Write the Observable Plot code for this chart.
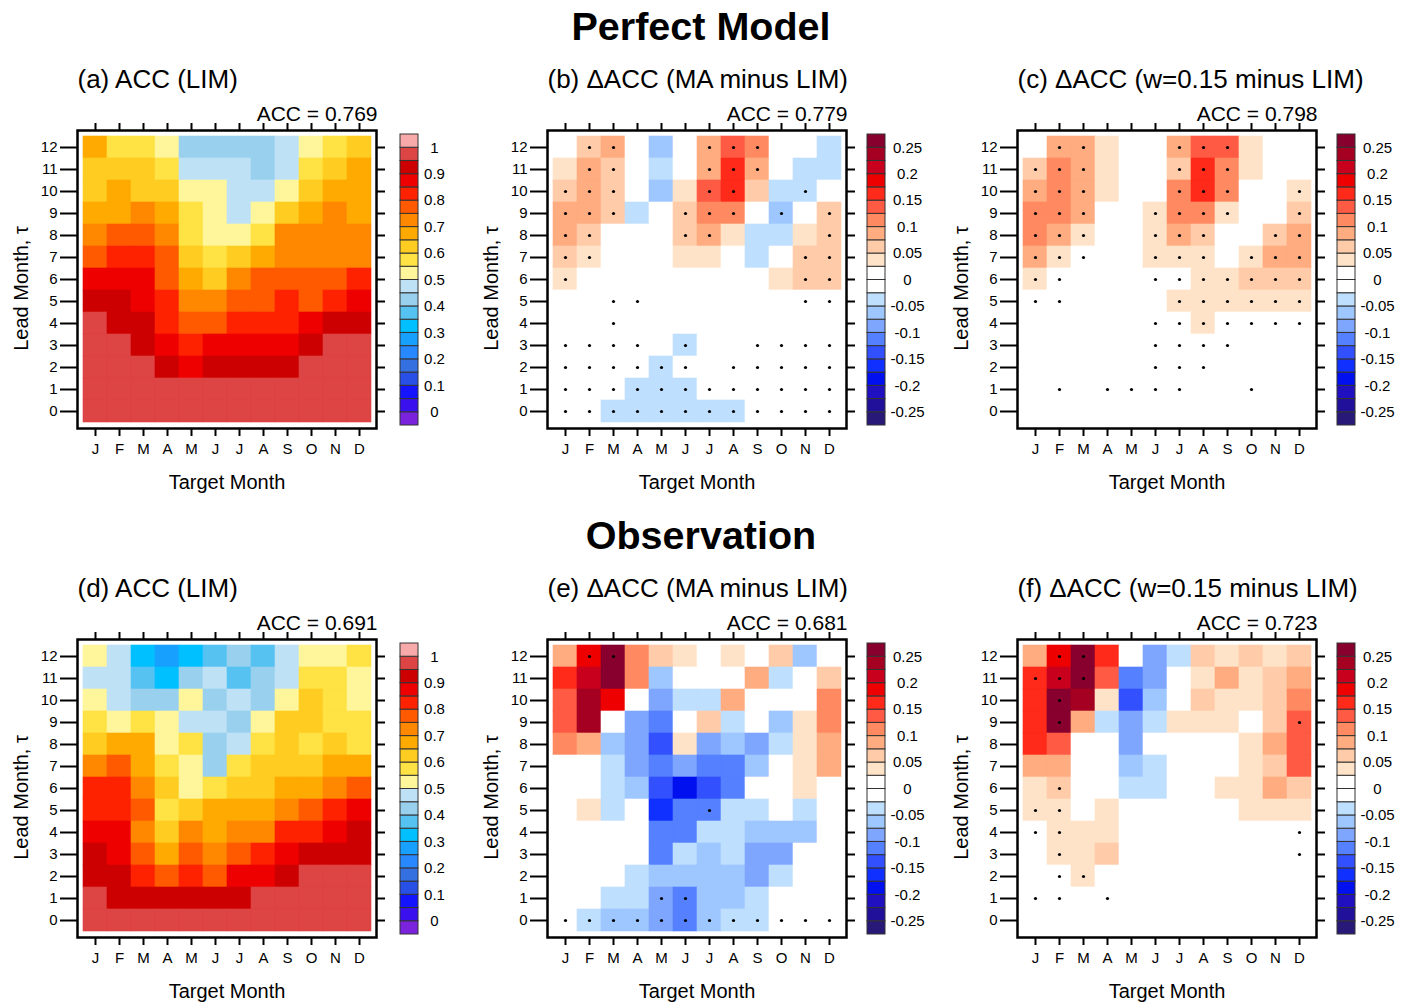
<!DOCTYPE html>
<html><head><meta charset="utf-8">
<script src="https://cdn.jsdelivr.net/npm/d3@7"></script>
<script src="https://cdn.jsdelivr.net/npm/@observablehq/plot@0.6"></script>
<style>
body{margin:0;background:#fff;}
#root{position:relative;width:1411px;height:1004px;font-family:"Liberation Sans",Arial,sans-serif;overflow:hidden;}
.title{position:absolute;left:0;width:1402px;text-align:center;font-weight:bold;font-size:39.5px;line-height:1;color:#000;}
</style></head><body><div id="root"></div>
<script>
const FONT = '"Liberation Sans", Arial, sans-serif';
const monthLabels = ["J","F","M","A","M","J","J","A","S","O","N","D"];
const months = [1,2,3,4,5,6,7,8,9,10,11,12];
const leads = [12,11,10,9,8,7,6,5,4,3,2,1,0]; // rows top -> bottom

const sectionTitles = ["Perfect Model", "Observation"];
const panelTitles = [
  "(a) ACC (LIM)", "(b) \u0394ACC (MA minus LIM)", "(c) \u0394ACC (w=0.15 minus LIM)",
  "(d) ACC (LIM)", "(e) \u0394ACC (MA minus LIM)", "(f) \u0394ACC (w=0.15 minus LIM)"
];
const accLabels = ["ACC = 0.769","ACC = 0.779","ACC = 0.798","ACC = 0.691","ACC = 0.681","ACC = 0.723"];

// ---- ACC of LIM, perfect model (rows lead 12 -> 0, columns J..D)
const accLIM_PM = [
  [.67,.57,.57,.52,.42,.42,.42,.42,.47,.52,.57,.62],
  [.62,.62,.62,.57,.47,.47,.47,.42,.47,.57,.62,.67],
  [.62,.67,.62,.62,.52,.52,.47,.47,.52,.62,.67,.67],
  [.67,.67,.72,.67,.57,.52,.47,.52,.62,.67,.72,.67],
  [.72,.77,.77,.72,.57,.52,.52,.57,.72,.72,.72,.72],
  [.77,.82,.82,.77,.62,.57,.62,.67,.72,.72,.72,.72],
  [.87,.87,.87,.77,.67,.62,.72,.77,.77,.77,.77,.82],
  [.92,.92,.87,.82,.72,.72,.77,.77,.82,.77,.82,.87],
  [.97,.92,.92,.82,.77,.77,.82,.82,.82,.87,.92,.92],
  [.97,.97,.92,.87,.82,.87,.87,.87,.87,.92,.97,.97],
  [.97,.97,.97,.92,.87,.92,.92,.92,.92,.97,.97,.97],
  [.97,.97,.97,.97,.97,.97,.97,.97,.97,.97,.97,.97],
  [.97,.97,.97,.97,.97,.97,.97,.97,.97,.97,.97,.97]
];
// ---- Delta ACC, MA minus LIM, perfect model
const dMA_PM = [
  [0,.06,.09,0,-.06,0,.09,.14,.11,0,0,-.04],
  [.04,.09,.06,0,-.04,0,.09,.16,.09,0,-.04,-.04],
  [.06,.09,.06,0,-.06,.04,.14,.16,.06,-.04,-.04,0],
  [.09,.09,.06,-.04,0,.06,.11,.11,0,-.06,0,.06],
  [.09,.06,0,0,0,.06,.09,.04,-.04,-.04,.04,.06],
  [.06,.04,0,0,0,.04,.04,0,-.04,0,.06,.06],
  [.04,0,0,0,0,0,0,0,0,.04,.06,.06],
  [0,0,0,0,0,0,0,0,0,0,0,0],
  [0,0,0,0,0,0,0,0,0,0,0,0],
  [0,0,0,0,0,-.04,0,0,0,0,0,0],
  [0,0,0,0,-.04,0,0,0,0,0,0,0],
  [0,0,0,-.04,-.04,-.04,0,0,0,0,0,0],
  [0,0,-.04,-.04,-.04,-.04,-.04,-.04,0,0,0,0]
];
const sigMA_PM = ["011000111000","011000111000","111000110010","111001110101","110001100001","110000000011","100000000011","001100000011","001000000000","111101001111","111111011111","111111111111","111111111111"];
// ---- Delta ACC, w=0.15 minus LIM, perfect model
const dW_PM = [
  [0,.09,.09,.04,0,0,.09,.14,.14,.04,0,0],
  [.06,.11,.09,.04,0,0,.06,.16,.11,.04,0,0],
  [.09,.11,.09,.04,0,0,.11,.16,.11,0,0,.04],
  [.11,.11,.09,0,0,.04,.11,.11,.04,0,0,.06],
  [.11,.09,.04,0,0,.04,.09,.06,0,0,.06,.09],
  [.09,.04,0,0,0,.04,.04,.04,0,.04,.09,.09],
  [.04,0,0,0,0,0,0,.04,.04,.06,.06,.06],
  [0,0,0,0,0,0,.04,.04,.04,.04,.04,.04],
  [0,0,0,0,0,0,0,.04,0,0,0,0],
  [0,0,0,0,0,0,0,0,0,0,0,0],
  [0,0,0,0,0,0,0,0,0,0,0,0],
  [0,0,0,0,0,0,0,0,0,0,0,0],
  [0,0,0,0,0,0,0,0,0,0,0,0]
];
const sigW_PM = ["011000111000","111000111000","111000111001","111001111001","111001110011","111001110111","110001111111","110000111111","000001111111","000001111000","000001110000","010111100100","000000000000"];
// ---- ACC of LIM, observation
const accLIM_OBS = [
  [.52,.47,.32,.27,.32,.37,.42,.37,.47,.52,.52,.57],
  [.47,.47,.37,.32,.42,.47,.37,.42,.47,.57,.57,.52],
  [.52,.47,.42,.42,.52,.42,.47,.42,.52,.62,.57,.52],
  [.57,.52,.57,.52,.47,.47,.42,.52,.62,.62,.57,.57],
  [.62,.67,.67,.52,.57,.42,.47,.57,.62,.57,.62,.57],
  [.72,.77,.67,.57,.52,.42,.57,.62,.62,.62,.67,.67],
  [.82,.82,.72,.62,.52,.57,.62,.62,.67,.67,.72,.77],
  [.82,.82,.77,.57,.62,.67,.67,.67,.72,.77,.82,.87],
  [.87,.87,.72,.62,.72,.67,.72,.72,.82,.82,.87,.92],
  [.92,.87,.77,.67,.77,.72,.77,.82,.87,.92,.92,.92],
  [.92,.92,.82,.77,.82,.77,.87,.87,.92,.97,.97,.97],
  [.97,.92,.92,.92,.92,.92,.92,.97,.97,.97,.97,.97],
  [.97,.97,.97,.97,.97,.97,.97,.97,.97,.97,.97,.97]
];
// ---- Delta ACC, MA minus LIM, observation
const dMA_OBS = [
  [.09,.19,.26,.11,.06,.04,0,.04,0,.06,-.06,0],
  [.16,.21,.26,.11,-.06,0,0,0,.09,-.04,0,.06],
  [.14,.24,.19,0,-.09,-.04,-.04,.09,0,0,0,.11],
  [.14,.24,0,-.09,-.11,0,.06,-.04,0,-.06,.04,.11],
  [.11,.09,-.06,-.09,-.14,.04,-.09,-.06,-.09,-.04,.04,.09],
  [0,0,-.04,-.09,-.11,-.09,-.11,-.11,-.06,0,.04,.09],
  [0,0,-.04,-.06,-.14,-.19,-.14,-.11,0,0,.04,0],
  [0,.04,-.04,0,-.16,-.11,-.11,-.04,-.04,0,-.04,0],
  [0,0,0,0,-.11,-.11,-.04,-.04,-.06,-.06,-.06,0],
  [0,0,0,0,-.11,-.04,-.06,-.04,-.09,-.09,0,0],
  [0,0,0,-.04,-.06,-.06,-.06,-.06,-.09,-.04,0,0],
  [0,0,-.04,-.04,-.09,-.11,-.06,-.06,-.04,0,0,0],
  [0,-.04,-.06,-.06,-.09,-.11,-.06,-.04,-.04,0,0,0]
];
const sigMA_OBS = ["011000000000","000000000000","000000000000","000000000000","000000000000","000000000000","000000000000","000000100000","000000000000","000000000000","000000000000","000011000000","111111111111"];
// ---- Delta ACC, w=0.15 minus LIM, observation
const dW_OBS = [
  [.09,.19,.26,.16,0,-.09,-.04,.06,.04,.06,.04,.06],
  [.16,.21,.26,.14,-.11,-.09,0,.04,.09,.04,.06,.09],
  [.16,.26,.24,.04,-.14,-.06,0,.06,.04,.04,.06,.11],
  [.16,.26,.09,-.04,-.09,-.04,.04,.04,.04,0,.06,.14],
  [.16,.14,0,0,-.09,0,0,0,0,.04,.09,.14],
  [.09,.09,0,0,-.06,-.04,0,0,0,.04,.06,.14],
  [.04,.06,0,0,-.04,-.04,0,0,.04,.04,.09,.06],
  [.04,.04,0,.04,0,0,0,0,0,.04,.04,.04],
  [0,.04,.04,.04,0,0,0,0,0,0,0,0],
  [0,.04,.04,.06,0,0,0,0,0,0,0,0],
  [0,0,.04,0,0,0,0,0,0,0,0,0],
  [0,0,0,0,0,0,0,0,0,0,0,0],
  [0,0,0,0,0,0,0,0,0,0,0,0]
];
const sigW_OBS = ["011000000000","111000000000","010000000000","010000000001","000000000000","000000000000","010000000000","110000000000","110000000001","010000000001","011000000000","110100000000","000000000000"];

// ---- colour classes
const accThresholds = [0,0.05,0.1,0.15,0.2,0.25,0.3,0.35,0.4,0.45,0.5,0.55,0.6,0.65,0.7,0.75,0.8,0.85,0.9,0.95,1];
const accColors = ["#7B22DD","#3A10EE","#1414FF","#2850E6","#3470E0","#2888FF","#18A0FF","#00C0FF","#55C2F2","#99D0EE","#BEE1F6",
  "#FFF59A","#FFE244","#FFCC22","#FFAA00","#FF8800","#FF5A00","#FF2200","#EE0000","#CC0000","#DD4444","#F8AAAA"];
const accTicks = [0,0.1,0.2,0.3,0.4,0.5,0.6,0.7,0.8,0.9,1];
const accTickLabels = ["0","0.1","0.2","0.3","0.4","0.5","0.6","0.7","0.8","0.9","1"];

const dThresholds = [-0.25,-0.225,-0.2,-0.175,-0.15,-0.125,-0.1,-0.075,-0.05,-0.025,0,0.025,0.05,0.075,0.1,0.125,0.15,0.175,0.2,0.225,0.25];
const dColors = ["#281878","#20109A","#2010C0","#0010EE","#1030FF","#3350FF","#5580FF","#7FA6FF","#9FC7FF","#BFDFFF","#FFFFFF",
  "#FFFFFF","#FFE3C8","#FFCBA8","#FFAC80","#FF8A62","#FF5A44","#FF2A1A","#EE0000","#C8001E","#A50021","#87002E"];
const dTicks = [0.25,0.2,0.15,0.1,0.05,0,-0.05,-0.1,-0.15,-0.2,-0.25];
const dTickLabels = ["0.25","0.2","0.15","0.1","0.05","0","-0.05","-0.1","-0.15","-0.2","-0.25"];

const accScale = {type: "threshold", domain: accThresholds, range: accColors};
const dScale = {type: "threshold", domain: dThresholds, range: dColors};

const root = document.getElementById("root");

function place(el, left, top) {
  el.style.position = "absolute";
  el.style.left = left + "px";
  el.style.top = top + "px";
  root.appendChild(el);
}

function panel(vals, sig, subtitle, accText, color) {
  const cells = [];
  vals.forEach((row, i) => row.forEach((v, j) => cells.push({m: months[j], lead: leads[i], v})));
  const dots = [];
  if (sig) sig.forEach((row, i) => [...row].forEach((c, j) => { if (c === "1") dots.push({m: months[j], lead: leads[i]}); }));
  return Plot.plot({
    width: 391, height: 75 + 298 + 70,
    marginTop: 75, marginLeft: 77, marginRight: 15, marginBottom: 70,
    style: {background: "none", fontFamily: FONT, fontSize: "15px", color: "black", overflow: "visible"},
    x: {type: "band", domain: months, padding: 0},
    y: {type: "band", domain: leads, padding: 0},
    color,
    marks: [
      Plot.cell(cells, {x: "m", y: "lead", fill: "v", stroke: "v", strokeWidth: 0.6}),
      Plot.dot(dots, {x: "m", y: "lead", r: 1.6, fill: "black", stroke: null}),
      Plot.frame({stroke: "black", strokeWidth: 2.5}),
      Plot.axisY({anchor: "left", tickSize: 17, tickPadding: 3, strokeWidth: 2, fontSize: 15, label: null}),
      Plot.axisY({anchor: "right", tickSize: 8, strokeWidth: 2, tickFormat: () => "", label: null}),
      Plot.axisX({anchor: "bottom", tickSize: 8, tickPadding: 7, strokeWidth: 2, fontSize: 15, tickFormat: m => monthLabels[m - 1], label: null}),
      Plot.axisX({anchor: "top", tickSize: 8, strokeWidth: 2, tickFormat: () => "", label: null}),
      Plot.text(["Target Month"], {text: d => d, frameAnchor: "bottom", lineAnchor: "middle", textAnchor: "middle", dy: 53.6, fontSize: 20}),
      Plot.text(["Lead Month, \u03C4"], {text: d => d, frameAnchor: "left", rotate: -90, textAnchor: "middle", lineAnchor: "middle", dx: -56, dy: 9, fontSize: 20}),
      Plot.text([subtitle], {text: d => d, frameAnchor: "top-left", textAnchor: "start", lineAnchor: "middle", dy: -51.3, fontSize: 26}),
      Plot.text([accText], {text: d => d, frameAnchor: "top-right", textAnchor: "end", lineAnchor: "middle", dx: 1, dy: -16.7, fontSize: 21})
    ]
  });
}

function colorbar(thresholds, colors, lo, hi, ticks, tickLabels, labelDx, color) {
  const edges = [lo, ...thresholds, hi];
  const boxes = colors.map((c, i) => ({y1: edges[i], y2: edges[i + 1]}));
  return Plot.plot({
    width: 80, height: 311,
    marginTop: 10, marginBottom: 10, marginLeft: 5, marginRight: 57,
    style: {background: "none", fontFamily: FONT, fontSize: "15px", color: "black", overflow: "visible"},
    y: {domain: [lo, hi], axis: null},
    color,
    marks: [
      Plot.rect(boxes, {y1: "y1", y2: "y2", fill: d => (d.y1 + d.y2) / 2, stroke: "#333", strokeWidth: 1}),
      Plot.text(ticks, {y: d => d, text: (d, i) => tickLabels[i], frameAnchor: "right", textAnchor: "middle", lineAnchor: "middle", dx: labelDx, fontSize: 15})
    ]
  });
}

// section titles
sectionTitles.forEach((t, r) => {
  const div = document.createElement("div");
  div.className = "title";
  div.textContent = t;
  div.style.top = (7 + 509 * r) + "px";
  root.appendChild(div);
});

const panels = [
  [accLIM_PM, null, accScale], [dMA_PM, sigMA_PM, dScale], [dW_PM, sigW_PM, dScale],
  [accLIM_OBS, null, accScale], [dMA_OBS, sigMA_OBS, dScale], [dW_OBS, sigW_OBS, dScale]
];
panels.forEach(([vals, sig, scale], k) => {
  const r = Math.floor(k / 3), c = k % 3;
  place(panel(vals, sig, panelTitles[k], accLabels[k], scale), 470 * c, 55 + 509 * r);
  const isAcc = c === 0;
  const cb = isAcc
    ? colorbar(accThresholds, accColors, -0.05, 1.05, accTicks, accTickLabels, 16, accScale)
    : colorbar(dThresholds, dColors, -0.275, 0.275, dTicks, dTickLabels, 22, dScale);
  place(cb, (isAcc ? 395 : 392) + 470 * c, 124 + 509 * r);
});
</script>
</body></html>
